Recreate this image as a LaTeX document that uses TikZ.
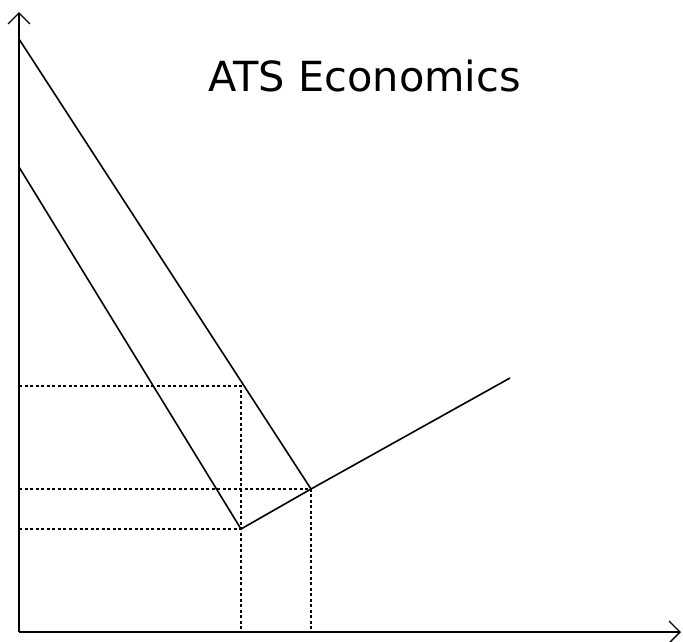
\documentclass[tikz,border=0pt]{standalone}
\usepackage{fontspec}
\setmainfont{DejaVu Sans}
\usetikzlibrary{arrows.meta}
\begin{document}
\begin{tikzpicture}[x=1pt,y=-1pt,
  axis/.style={line width=1.6pt,-{Straight Barb[length=11pt,width=22pt,line width=1.4pt]}},
  curve/.style={line width=1.6pt},
  guide/.style={line width=1.8pt,dash pattern=on 3pt off 2.5pt}]
\useasboundingbox (0,0) rectangle (683,641);
\coordinate (O) at (19,632);
\coordinate (ytop) at (19,12);
\coordinate (xend) at (681,632);
\coordinate (A1) at (19,39);
\coordinate (B) at (311,489);
\coordinate (A2) at (19,167);
\coordinate (K) at (241,529);
\coordinate (E) at (510,378);
\coordinate (P) at (241,386);
% guides
\draw[guide] (P -| O) -- (P) -- (P |- O);
\draw[guide] (B -| O) -- (B) -- (B |- O);
\draw[guide] (K -| O) -- (K) -- (K |- O);
% axes
\draw[axis] (O) -- (ytop);
\draw[axis] (O) -- (xend);
% curves
\draw[curve] (A1) -- (B) -- (E);
\draw[curve] (A2) -- (K) -- (B);
\node[anchor=base,font=\fontsize{41.5}{46}\selectfont,inner sep=0pt] (title) at (364.5,91) {ATS Economics};
\end{tikzpicture}
\end{document}
